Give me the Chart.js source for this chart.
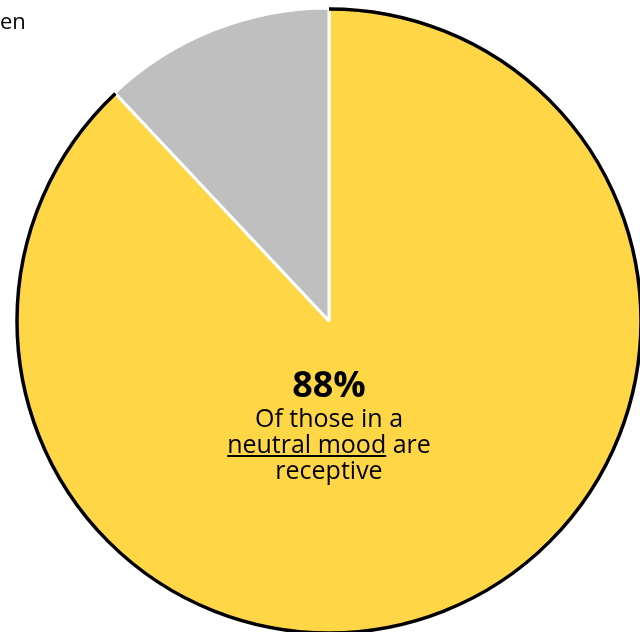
<!DOCTYPE html>
<html>
<head>
<meta charset="utf-8">
<script src="https://cdn.jsdelivr.net/npm/chart.js@4"></script>
<style>
    html, body { margin: 0; padding: 0; background: #fff; overflow: hidden; width: 640px; height: 632px; }
    #wrap { position: absolute; left: 0; top: 0; width: 640px; height: 632px; overflow: hidden; }
    #moodChart { position: absolute; left: 0; top: 0; }
    .legend { position: absolute; left: 0; top: 5px; font: 22px 'Open Sans', sans-serif; color: #000; }
    .center-text { position: absolute; left: 179px; width: 300px; top: 364px; text-align: center;
        font-family: 'Open Sans', sans-serif; color: #000; }
    .center-text .big { font-size: 36px; font-weight: bold; line-height: 40px; }
    .center-text .small { font-size: 25px; line-height: 26px; }
</style>
</head>
<body>
<div id="wrap">
    <canvas id="moodChart" width="660" height="640"></canvas>
    <div class="legend">en</div>
    <div class="center-text">
        <div class="big">88%</div>
        <div class="small">Of those in a<br><u>neutral mood</u> are<br>receptive</div>
    </div>
</div>
<script>
const labels = ['Receptive', 'Not receptive'];
const values = [88, 12];
const colors = ['#FFD645', '#BFBFBF'];

// contorno preto só no arco da fatia amarela
const outlinePlugin = {
    id: 'outline',
    afterDatasetsDraw(chart) {
        const arc = chart.getDatasetMeta(0).data[0];
        const ctx = chart.ctx;
        ctx.save();
        ctx.beginPath();
        ctx.arc(arc.x, arc.y, arc.outerRadius - 1, arc.startAngle, arc.endAngle);
        ctx.strokeStyle = '#000';
        ctx.lineWidth = 3.5;
        ctx.stroke();
        ctx.restore();
    }
};

const ctx = document.getElementById('moodChart').getContext('2d');
new Chart(ctx, {
    type: 'pie',
    data: {
        labels: labels,
        datasets: [{
            data: values,
            backgroundColor: colors,
            borderColor: '#ffffff',
            borderWidth: 3
        }]
    },
    options: {
        responsive: false,
        animation: false,
        radius: 313,
        layout: { padding: { left: 7, right: 9, top: 9, bottom: 7 } },
        plugins: {
            legend: { display: false },
            tooltip: { enabled: false }
        }
    },
    plugins: [outlinePlugin]
});
</script>
</body>
</html>
